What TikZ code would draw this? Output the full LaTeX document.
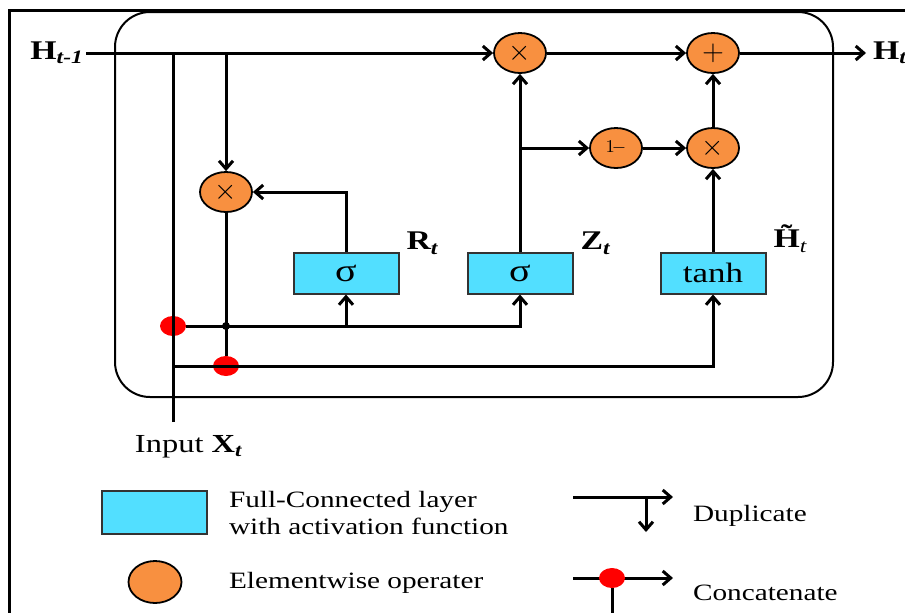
\documentclass[tikz,border=0pt]{standalone}
\usepackage{fontspec}
\setmainfont[FakeStretch=1.25]{Liberation Serif}
\usepackage{amsmath}
\usepackage{xcolor}
\usepackage{tikz}
\usetikzlibrary{positioning, arrows.meta, shapes.geometric}
\definecolor{opfill}{RGB}{248, 144, 64}
\definecolor{fcfill}{RGB}{82, 223, 255}

\begin{document}
\begin{tikzpicture}[x=0.5pt, y=-0.5pt,
  wire/.style={line width=1.5pt},
  arr/.style={wire, -{Straight Barb[length=4pt,width=7pt]}},
  op/.style={ellipse, draw, line width=0.9pt, fill=opfill, minimum width=26pt, minimum height=20pt, inner sep=0pt, font=\Large},
  fc/.style={rectangle, draw=black!80, line width=1pt, fill=fcfill, minimum width=52.5pt, minimum height=20.5pt, inner sep=0pt, font=\fontsize{14}{16}\selectfont},
  catdot/.style={ellipse, fill=red, minimum width=13pt, minimum height=10pt, inner sep=0pt},
  lbl/.style={font=\fontsize{13.5}{16}\selectfont\bfseries},
  legend/.style={anchor=west, align=left, font=\fontsize{11.7}{13.7}\selectfont}]
\useasboundingbox (0,0) rectangle (905,612);
\draw[line width=1.5pt] (9,615) -- (9,10) -- (910,10);
\draw[line width=1pt, rounded corners=17.5pt] (115,12) rectangle (833,397);
% operators
\node[op] (mr) at (226,192) {$\times$};
\node[op] (mz) at (520,53) {$\times$};
\node[op] (add) at (713,53) {$+$};
\node[op, font=\small] (oneminus) at (616,148) {$1\!-$};
\node[op] (mh) at (713,148) {$\times$};
% gates
\node[fc, font=\fontsize{16}{18}\selectfont] (rgate) at (346,273) {σ};
\node[fc, font=\fontsize{16}{18}\selectfont] (zgate) at (520,273) {σ};
\node[fc] (hcand) at (713,273) {tanh};
\node[lbl, anchor=south west, yshift=-5pt] at (rgate.north east) {R\textsubscript{\textit{t}}};
\node[lbl, anchor=south west, yshift=-5pt] at (zgate.north east) {Z\textsubscript{\textit{t}}};
\node[lbl, anchor=south west, yshift=-4pt] at (hcand.north east) {\~{H}\textsubscript{\mdseries\itshape t}};
% inputs and output
\node[lbl, anchor=east] (hprev) at (91,53) {H\textsubscript{\textit{t-1}}};
\coordinate (hin) at (86,53);
\coordinate (hout) at (866,53);
\node[lbl, anchor=west] (hnext) at (hout) {H\textsubscript{\textit{t}}};
\coordinate (xbot) at (173,422);
\node[font=\fontsize{13}{15}\selectfont] (xin) at (189,447) {Input \textbf{X\textsubscript{\textit{t}}}};
\coordinate (jh1) at (173,53);
\coordinate (jh2) at (226,53);
\coordinate (jx) at (173,366);
\coordinate (zsplit) at (520,148);
\node[catdot] (cat1) at (173,326) {};
\node[catdot] (cat2) at (226,366) {};
% connectors
\draw[arr] (hin) -- (mz);
\draw[wire] (xbot) -- (jh1);
\draw[arr] (jh2) -- (mr);
\draw[arr] (rgate.north) |- (mr);
\draw[wire] (mr) -- (cat2);
\draw[arr] (cat1) -| (rgate.south);
\draw[arr] (cat1) -| (zgate.south);
\fill (226,326) circle (2pt);
\draw[arr] (jx) -| (hcand.south);
\draw[arr] (zgate) -- (mz);
\draw[arr] (zsplit) -- (oneminus);
\draw[arr] (oneminus) -- (mh);
\draw[arr] (hcand) -- (mh);
\draw[arr] (mh) -- (add);
\draw[arr] (mz) -- (add);
\draw[arr] (add) -- (hout);
% legend
\node[fc, minimum width=52.5pt, minimum height=21.5pt] (lgfc) at (154.5,512.5) {};
\node[legend] at (222,513) {Full-Connected layer\\with activation function};
\node[op, minimum width=26.5pt, minimum height=21pt] (lgop) at (155,582) {};
\node[legend] at (222,583) {Elementwise operater};
\coordinate (dupa) at (573,497);
\coordinate (dupb) at (673,497);
\coordinate (dupc) at (646,497);
\coordinate (dupd) at (646,532);
\draw[arr] (dupa) -- (dupb);
\draw[arr] (dupc) -- (dupd);
\node[legend] at (686,516) {Duplicate};
\coordinate (cona) at (573,578);
\coordinate (conb) at (673,578);
\coordinate (conc) at (612,615);
\draw[arr] (cona) -- (conb);
\node[catdot] (lgdot) at (612,578) {};
\draw[wire] (lgdot) -- (conc);
\node[legend] at (686,593) {Concatenate};
\end{tikzpicture}
\end{document}
